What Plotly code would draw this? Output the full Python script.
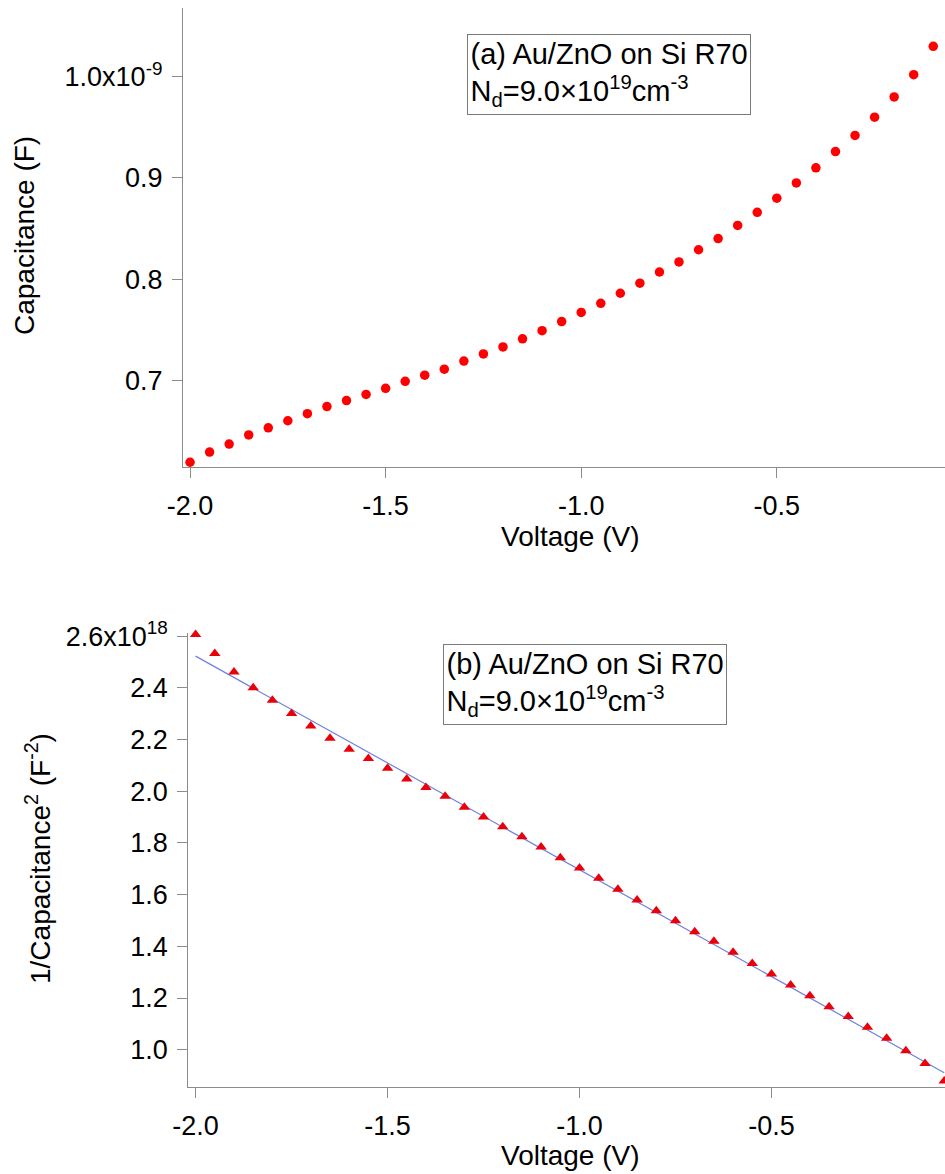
import numpy as np
import plotly.graph_objects as go

# ---------------- data ----------------
voltage = [-2.00, -1.95, -1.90, -1.85, -1.80, -1.75, -1.70, -1.65, -1.60, -1.55,
           -1.50, -1.45, -1.40, -1.35, -1.30, -1.25, -1.20, -1.15, -1.10, -1.05,
           -1.00, -0.95, -0.90, -0.85, -0.80, -0.75, -0.70, -0.65, -0.60, -0.55,
           -0.50, -0.45, -0.40, -0.35, -0.30, -0.25, -0.20, -0.15, -0.10, -0.05]

# capacitance in units of 1e-9 F
cap_e9 = [0.619, 0.629, 0.637, 0.646, 0.653, 0.660, 0.667, 0.674, 0.680, 0.686,
          0.692, 0.699, 0.705, 0.711, 0.719, 0.726, 0.733, 0.741, 0.749, 0.758,
          0.767, 0.776, 0.786, 0.796, 0.807, 0.817, 0.829, 0.840, 0.853, 0.866,
          0.880, 0.895, 0.910, 0.926, 0.942, 0.960, 0.980, 1.002, 1.030, 1.066]

# 1/C^2 in units of 1e18 F^-2
invc2_e18 = [2.607, 2.533, 2.462, 2.401, 2.352, 2.301, 2.253, 2.205, 2.163, 2.127,
             2.089, 2.048, 2.015, 1.981, 1.938, 1.900, 1.863, 1.824, 1.784, 1.743,
             1.703, 1.663, 1.621, 1.579, 1.538, 1.499, 1.456, 1.420, 1.377, 1.334,
             1.293, 1.250, 1.209, 1.166, 1.128, 1.087, 1.044, 0.996, 0.947, 0.879]

# linear fit line (endpoints), units 1e18
fit_v = [-2.00, -0.05]
fit_e18 = [2.523, 0.911]

x_tickvals = [-2.0, -1.5, -1.0, -0.5]
x_ticktext = ["-2.0", "-1.5", "-1.0", "-0.5"]
y1_tickvals_e9 = [0.7, 0.8, 0.9, 1.0]
y1_ticktext = ["0.7", "0.8", "0.9", "1.0x10<sup>-9</sup>"]
y2_tickvals_e18 = [1.0, 1.2, 1.4, 1.6, 1.8, 2.0, 2.2, 2.4, 2.6]
y2_ticktext = ["1.0", "1.2", "1.4", "1.6", "1.8", "2.0", "2.2", "2.4", "2.6x10<sup>18</sup>"]

# ---------------- figure ----------------
W, H = 945, 1174
FONT = "Liberation Sans, Arial, sans-serif"
AXC = "#8c8c8c"

def px(x):
    return x / W

def py(y):
    return 1 - y / H

cap = np.array(cap_e9) * 1e-9
invc2 = np.array(invc2_e18) * 1e18
fit = np.array(fit_e18) * 1e18

fig = go.Figure()
fig.add_trace(go.Scatter(x=voltage, y=cap, mode="markers",
                         marker=dict(symbol="circle", size=9.5, color="#ff0000"),
                         xaxis="x", yaxis="y", showlegend=False))
fig.add_trace(go.Scatter(x=fit_v, y=fit, mode="lines",
                         line=dict(color="#6f7fe0", width=1.2),
                         xaxis="x2", yaxis="y2", showlegend=False))
fig.add_trace(go.Scatter(x=voltage, y=invc2, mode="markers",
                         marker=dict(symbol="triangle-up", size=10, color="#e8000b",
                                     line=dict(width=0)),
                         cliponaxis=False,
                         xaxis="x2", yaxis="y2", showlegend=False))

axis_common = dict(showgrid=False, zeroline=False, showline=True, linecolor=AXC,
                   linewidth=1.3, ticks="outside", ticklen=10, tickwidth=1.2,
                   tickcolor=AXC, tickfont=dict(family=FONT, size=27, color="black"),
                   ticklabelstandoff=4, automargin=False)

fig.update_layout(
    width=W, height=H,
    margin=dict(l=0, r=0, t=0, b=0, pad=0, autoexpand=False),
    paper_bgcolor="white", plot_bgcolor="white",
    showlegend=False,
    xaxis=dict(domain=[px(183), 1], range=[-2.018, -0.07], anchor="y",
               tickvals=x_tickvals, ticktext=x_ticktext, **axis_common),
    yaxis=dict(domain=[py(467), py(8)], range=[0.6143e-9, 1.0679e-9], anchor="x",
               tickvals=[v * 1e-9 for v in y1_tickvals_e9], ticktext=y1_ticktext,
               **axis_common),
    xaxis2=dict(domain=[px(188.3), 1], range=[-2.019, -0.048], anchor="y2",
                tickvals=x_tickvals, ticktext=x_ticktext, **axis_common),
    yaxis2=dict(domain=[py(1087.3), py(633)], range=[0.8545e18, 2.6125e18], anchor="x2",
                tickvals=[v * 1e18 for v in y2_tickvals_e18], ticktext=y2_ticktext,
                **axis_common),
)

title_font = dict(family=FONT, size=28, color="black")
box_font = dict(family=FONT, size=29, color="black")

annotations = [
    # axis titles
    dict(text="Capacitance (F)", x=px(25), y=py(236), xref="paper", yref="paper",
         textangle=-90, xanchor="center", yanchor="middle", showarrow=False, font=title_font),
    dict(text="Voltage (V)", x=px(570), y=py(536), xref="paper", yref="paper",
         xanchor="center", yanchor="middle", showarrow=False, font=title_font),
    dict(text="1/Capacitance<sup>2</sup> (F<sup>-2</sup>)", x=px(38), y=py(859),
         xref="paper", yref="paper", textangle=-90, xanchor="center", yanchor="middle",
         showarrow=False, font=title_font),
    dict(text="Voltage (V)", x=px(570), y=py(1155), xref="paper", yref="paper",
         xanchor="center", yanchor="middle", showarrow=False, font=title_font),
    # text boxes
    dict(text="(a) Au/ZnO on Si R70<br>N<sub>d</sub>=9.0×10<sup>19</sup>cm<sup>-3</sup>",
         x=px(466.7), y=py(34), xref="paper", yref="paper", xanchor="left", yanchor="top",
         align="left", showarrow=False, font=box_font, bordercolor="#7a7a7a",
         borderwidth=1, borderpad=2.5, bgcolor="white"),
    dict(text="(b) Au/ZnO on Si R70<br>N<sub>d</sub>=9.0×10<sup>19</sup>cm<sup>-3</sup>",
         x=px(443.3), y=py(644.3), xref="paper", yref="paper", xanchor="left", yanchor="top",
         align="left", showarrow=False, font=box_font, bordercolor="#7a7a7a",
         borderwidth=1, borderpad=2.5, bgcolor="white"),
]
fig.update_layout(annotations=annotations)

fig.write_html("out.html")
